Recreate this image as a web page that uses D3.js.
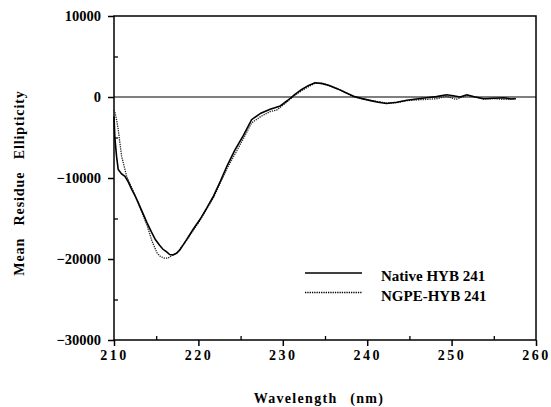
<!DOCTYPE html>
<html>
<head>
<meta charset="utf-8">
<script src="https://cdn.jsdelivr.net/npm/d3@7"></script>
<style>
  body { margin: 0; background: #fff; }
  svg text { font-family: "Liberation Serif", "Times New Roman", serif; font-weight: bold; }
</style>
</head>
<body>
<div id="chart"></div>
<script>
// wavelength (nm) and mean residue ellipticity
const nativeWl = [210, 210.1, 210.3, 210.5, 210.9, 211.3, 211.7, 212.1, 212.5, 212.9, 213.4, 213.9, 214.4, 214.9, 215.4, 215.8, 216.2, 216.6, 217.0, 217.4, 217.8, 218.6, 219.4, 220.2, 221.0, 221.8, 222.6, 223.4, 224.3, 225.3, 226.3, 227.4, 228.5, 229.7, 230.6, 231.4, 232.2, 233.0, 233.8, 234.7, 235.6, 236.5, 237.4, 238.4, 239.4, 240.4, 241.3, 242.3, 243.5, 244.7, 245.8, 247.0, 248.2, 249.4, 250.2, 251.0, 251.8, 252.8, 253.8, 255.0, 256.2, 257.0, 257.6];
const nativeVal = [-2400, -5000, -7300, -8950, -9500, -9800, -10500, -11400, -12200, -13100, -14300, -15500, -16600, -17600, -18300, -18800, -19100, -19450, -19500, -19300, -18900, -17600, -16300, -15100, -13700, -12200, -10400, -8500, -6600, -4800, -2800, -2000, -1500, -1100, -400, 300, 900, 1400, 1750, 1650, 1400, 1000, 550, 100, -200, -450, -650, -800, -650, -400, -250, -100, 50, 270, 150, 0, 270, 0, -220, -150, -100, -250, -220];
const ngpeWl = [210, 210.1, 210.3, 210.5, 210.9, 211.5, 212.1, 212.9, 213.9, 214.5, 215.1, 215.5, 216.0, 216.4, 217.0, 217.4, 218.6, 220.2, 221.8, 223.4, 225.3, 226.3, 227.4, 228.5, 229.3, 230.5, 231.4, 232.4, 233.8, 234.7, 235.6, 237.0, 238.4, 239.8, 241.0, 242.3, 243.5, 244.7, 246.0, 247.0, 248.3, 249.4, 250.5, 251.8, 252.8, 253.8, 255.0, 256.2, 257.6];
const ngpeVal = [-1600, -1800, -2800, -4000, -7300, -9800, -11200, -13200, -15800, -17800, -19250, -19700, -19900, -19900, -19450, -19300, -17700, -15200, -12400, -8800, -5200, -3200, -2400, -1800, -1600, -600, 200, 900, 1700, 1700, 1350, 800, 0, -300, -500, -750, -700, -450, -350, -300, -200, 100, -300, 200, 0, -250, -200, -300, -200];

const seriesNames = ["Native HYB 241", "NGPE-HYB 241"];
const xTicks = [210, 220, 230, 240, 250, 260];
const yTicks = [10000, 0, -10000, -20000, -30000];

const W = 551, H = 407;
const plotL = 114, plotR = 536, plotT = 16, plotB = 340;

const svg = d3.select("#chart").append("svg")
    .attr("width", W)
    .attr("height", H);

const x = d3.scaleLinear().domain([210, 260]).range([plotL, plotR]);
const y = d3.scaleLinear().domain([-30000, 10000]).range([plotB, plotT]);

// frame
svg.append("rect")
    .attr("x", plotL).attr("y", plotT)
    .attr("width", plotR - plotL).attr("height", plotB - plotT)
    .attr("fill", "none").attr("stroke", "#000").attr("stroke-width", 1.5);

// zero line
svg.append("line")
    .attr("x1", plotL).attr("x2", plotR)
    .attr("y1", y(0)).attr("y2", y(0))
    .attr("stroke", "#000").attr("stroke-width", 1.2);

// x axis
const xAxis = svg.append("g")
    .attr("transform", `translate(0,${plotB})`)
    .call(d3.axisBottom(x).tickValues(xTicks).tickSize(6).tickPadding(4).tickFormat(d3.format("d")));
xAxis.select(".domain").remove();
xAxis.selectAll("line").attr("stroke-width", 1.5);
xAxis.selectAll("text")
    .attr("font-size", 14)
    .attr("fill", "#000")
    .style("letter-spacing", "2.5px");

svg.append("g")
    .attr("transform", `translate(0,${plotB})`)
    .call(d3.axisBottom(x).tickValues(d3.range(215, 260, 10)).tickSize(-4).tickFormat(""))
    .call(g => g.select(".domain").remove())
    .selectAll("line").attr("stroke-width", 1.3);

// y axis
const yAxis = svg.append("g")
    .attr("transform", `translate(${plotL},0)`)
    .call(d3.axisLeft(y).tickValues(yTicks).tickSize(6).tickPadding(7).tickFormat(d3.format("d")));
yAxis.select(".domain").remove();
yAxis.selectAll("line").attr("stroke-width", 1.5);
yAxis.selectAll("text").attr("font-size", 14.5).attr("fill", "#000");

svg.append("g")
    .attr("transform", `translate(${plotL},0)`)
    .call(d3.axisLeft(y).tickValues([5000, -5000, -15000, -25000]).tickSize(-4).tickFormat(""))
    .call(g => g.select(".domain").remove())
    .selectAll("line").attr("stroke-width", 1.3);

// curves
const line = d3.line()
    .x(d => x(d[0]))
    .y(d => y(d[1]))
    .curve(d3.curveLinear);

svg.append("path")
    .datum(ngpeWl.map((w, i) => [w, ngpeVal[i]]))
    .attr("d", line)
    .attr("fill", "none")
    .attr("stroke", "#222")
    .attr("stroke-width", 1.3)
    .attr("stroke-dasharray", "1.3,1");

svg.append("path")
    .datum(nativeWl.map((w, i) => [w, nativeVal[i]]))
    .attr("d", line)
    .attr("fill", "none")
    .attr("stroke", "#000")
    .attr("stroke-width", 1.6);

// legend
const legend = svg.append("g");
seriesNames.forEach((name, i) => {
    const ly = 273 + i * 19.5;
    legend.append("line")
        .attr("x1", 305).attr("x2", 362)
        .attr("y1", ly).attr("y2", ly)
        .attr("stroke", "#000")
        .attr("stroke-width", i === 0 ? 1.5 : 1.3)
        .attr("stroke-dasharray", i === 0 ? null : "1.3,1");
    legend.append("text")
        .attr("x", 381).attr("y", ly + 8)
        .attr("font-size", 15)
        .text(name);
});

// axis titles
svg.append("text")
    .attr("x", 319).attr("y", 403)
    .attr("text-anchor", "middle")
    .attr("font-size", 14)
    .style("letter-spacing", "1.3px")
    .style("word-spacing", "8px")
    .text("Wavelength (nm)");

svg.append("text")
    .attr("transform", "translate(24,183) rotate(-90)")
    .attr("text-anchor", "middle")
    .attr("font-size", 14)
    .style("letter-spacing", "0.9px")
    .style("word-spacing", "8px")
    .text("Mean Residue Ellipticity");
</script>
</body>
</html>
